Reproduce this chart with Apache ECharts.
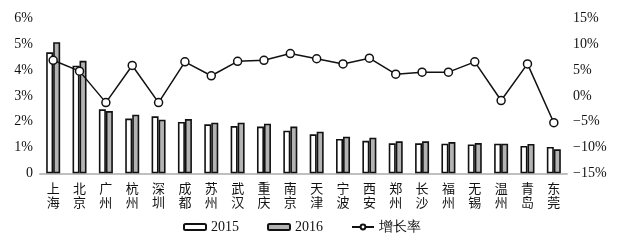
<!DOCTYPE html>
<html><head><meta charset="utf-8">
<script src="https://cdn.jsdelivr.net/npm/echarts@6/dist/echarts.min.js"></script>
<style>html,body{margin:0;padding:0;background:#fff}#c{width:637px;height:243px}</style>
</head><body><div id="c"></div>
<script>
const cities = ['上海','北京','广州','杭州','深圳','成都','苏州','武汉','重庆','南京','天津','宁波','西安','郑州','长沙','福州','无锡','温州','青岛','东莞'];
const v2015 = [4.69,4.17,2.48,2.12,2.21,1.99,1.90,1.83,1.81,1.65,1.51,1.33,1.26,1.16,1.16,1.15,1.12,1.15,1.06,1.02];
const v2016 = [5.08,4.36,2.41,2.27,2.08,2.10,1.96,1.96,1.92,1.81,1.61,1.42,1.38,1.24,1.24,1.21,1.17,1.15,1.14,0.93];
const growth = [6.9,4.8,-1.3,5.9,-1.3,6.6,3.9,6.7,6.9,8.2,7.2,6.2,7.3,4.2,4.6,4.6,6.6,-0.9,6.2,-5.2];
const names = ['2015','2016','增长率'];

const serif = 'Liberation Serif, Times New Roman, serif';
const chart = echarts.init(document.getElementById('c'), null, {renderer:'canvas'});
chart.setOption({
  animation:false,
  backgroundColor:'#fff',
  grid:{left:40,right:70,top:18.5,bottom:69.7,containLabel:false},
  legend:{
    data:names, left:183, top:220, padding:0, itemWidth:22, itemHeight:6, itemGap:28,
    textStyle:{fontFamily:serif, fontSize:14, color:'#111'}
  },
  xAxis:{
    type:'category', data:cities,
    axisLine:{lineStyle:{color:'#bfbfbf',width:2}},
    axisTick:{show:false},
    axisLabel:{
      interval:0, margin:8,
      fontFamily:'Noto Sans CJK SC', fontSize:13, lineHeight:14, color:'#111',
      formatter: v => v.split('').join('\n')
    }
  },
  yAxis:[
    {type:'value', min:0, max:6, interval:1,
     splitLine:{show:false}, axisLine:{show:false}, axisTick:{show:false},
     axisLabel:{margin:7, fontFamily:serif, fontSize:14, color:'#111',
       formatter: v => v===0 ? '0' : v+'%'}},
    {type:'value', min:-15, max:15, interval:5,
     splitLine:{show:false}, axisLine:{show:false}, axisTick:{show:false},
     axisLabel:{margin:6, fontFamily:serif, fontSize:14, color:'#111',
       formatter: v => v<0 ? '\u2212'+(-v)+'%' : v+'%'}}
  ],
  series:[
    {name:names[0], type:'bar', data:v2015, barWidth:7, barGap:'0%',
     itemStyle:{color:'#ffffff', borderColor:'#111', borderWidth:1.6}},
    {name:names[1], type:'bar', data:v2016, barWidth:7, barGap:'0%',
     itemStyle:{color:'#b3b3b3', borderColor:'#111', borderWidth:1.6}},
    {name:names[2], type:'line', yAxisIndex:1, data:growth,
     symbol:'circle', symbolSize:8, z:5,
     lineStyle:{color:'#111', width:1.5},
     itemStyle:{color:'#fff', borderColor:'#111', borderWidth:1.5}}
  ]
});
</script></body></html>
